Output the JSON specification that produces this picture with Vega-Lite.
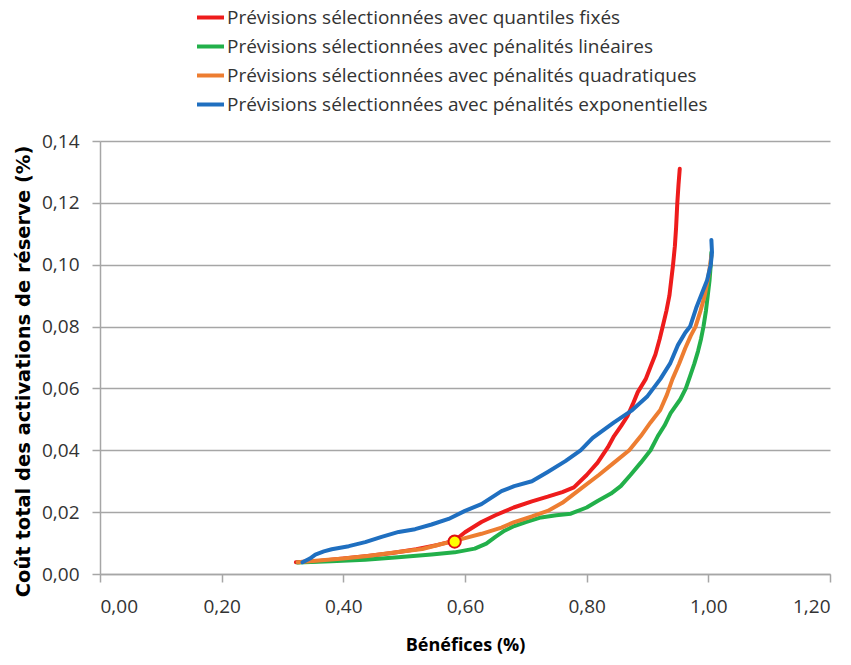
{
  "$schema": "https://vega.github.io/schema/vega-lite/v6.json",
  "width": 730,
  "height": 433,
  "autosize": {"type": "none"},
  "padding": {"left": 100, "top": 141, "right": 21, "bottom": 91},
  "background": "white",
  "config": {
    "font": "Open Sans",
    "view": {"stroke": null},
    "axis": {"labelFont": "Open Sans", "titleFont": "Open Sans"}
  },
  "datasets": {
    "curves": [
      {"s": "Prévisions sélectionnées avec quantiles fixés", "x": 0.322, "y": 0.0038},
      {"s": "Prévisions sélectionnées avec quantiles fixés", "x": 0.36, "y": 0.0042},
      {"s": "Prévisions sélectionnées avec quantiles fixés", "x": 0.40, "y": 0.0050},
      {"s": "Prévisions sélectionnées avec quantiles fixés", "x": 0.44, "y": 0.0058},
      {"s": "Prévisions sélectionnées avec quantiles fixés", "x": 0.48, "y": 0.0068},
      {"s": "Prévisions sélectionnées avec quantiles fixés", "x": 0.52, "y": 0.0080},
      {"s": "Prévisions sélectionnées avec quantiles fixés", "x": 0.555, "y": 0.0094},
      {"s": "Prévisions sélectionnées avec quantiles fixés", "x": 0.583, "y": 0.0108},
      {"s": "Prévisions sélectionnées avec quantiles fixés", "x": 0.60, "y": 0.0135},
      {"s": "Prévisions sélectionnées avec quantiles fixés", "x": 0.627, "y": 0.0168},
      {"s": "Prévisions sélectionnées avec quantiles fixés", "x": 0.65, "y": 0.0190},
      {"s": "Prévisions sélectionnées avec quantiles fixés", "x": 0.68, "y": 0.0215},
      {"s": "Prévisions sélectionnées avec quantiles fixés", "x": 0.71, "y": 0.0235},
      {"s": "Prévisions sélectionnées avec quantiles fixés", "x": 0.736, "y": 0.0250},
      {"s": "Prévisions sélectionnées avec quantiles fixés", "x": 0.76, "y": 0.0265},
      {"s": "Prévisions sélectionnées avec quantiles fixés", "x": 0.779, "y": 0.0280},
      {"s": "Prévisions sélectionnées avec quantiles fixés", "x": 0.80, "y": 0.0320},
      {"s": "Prévisions sélectionnées avec quantiles fixés", "x": 0.818, "y": 0.0360},
      {"s": "Prévisions sélectionnées avec quantiles fixés", "x": 0.835, "y": 0.0410},
      {"s": "Prévisions sélectionnées avec quantiles fixés", "x": 0.845, "y": 0.0446},
      {"s": "Prévisions sélectionnées avec quantiles fixés", "x": 0.857, "y": 0.0480},
      {"s": "Prévisions sélectionnées avec quantiles fixés", "x": 0.867, "y": 0.0510},
      {"s": "Prévisions sélectionnées avec quantiles fixés", "x": 0.876, "y": 0.0550},
      {"s": "Prévisions sélectionnées avec quantiles fixés", "x": 0.884, "y": 0.0588},
      {"s": "Prévisions sélectionnées avec quantiles fixés", "x": 0.897, "y": 0.0630},
      {"s": "Prévisions sélectionnées avec quantiles fixés", "x": 0.905, "y": 0.0670},
      {"s": "Prévisions sélectionnées avec quantiles fixés", "x": 0.913, "y": 0.0710},
      {"s": "Prévisions sélectionnées avec quantiles fixés", "x": 0.920, "y": 0.0760},
      {"s": "Prévisions sélectionnées avec quantiles fixés", "x": 0.925, "y": 0.0800},
      {"s": "Prévisions sélectionnées avec quantiles fixés", "x": 0.931, "y": 0.0850},
      {"s": "Prévisions sélectionnées avec quantiles fixés", "x": 0.936, "y": 0.0900},
      {"s": "Prévisions sélectionnées avec quantiles fixés", "x": 0.939, "y": 0.0950},
      {"s": "Prévisions sélectionnées avec quantiles fixés", "x": 0.942, "y": 0.1000},
      {"s": "Prévisions sélectionnées avec quantiles fixés", "x": 0.945, "y": 0.1060},
      {"s": "Prévisions sélectionnées avec quantiles fixés", "x": 0.947, "y": 0.1120},
      {"s": "Prévisions sélectionnées avec quantiles fixés", "x": 0.949, "y": 0.1200},
      {"s": "Prévisions sélectionnées avec quantiles fixés", "x": 0.951, "y": 0.1260},
      {"s": "Prévisions sélectionnées avec quantiles fixés", "x": 0.953, "y": 0.1310},

      {"s": "Prévisions sélectionnées avec pénalités linéaires", "x": 0.325, "y": 0.0037},
      {"s": "Prévisions sélectionnées avec pénalités linéaires", "x": 0.38, "y": 0.0041},
      {"s": "Prévisions sélectionnées avec pénalités linéaires", "x": 0.436, "y": 0.0046},
      {"s": "Prévisions sélectionnées avec pénalités linéaires", "x": 0.49, "y": 0.0054},
      {"s": "Prévisions sélectionnées avec pénalités linéaires", "x": 0.545, "y": 0.0063},
      {"s": "Prévisions sélectionnées avec pénalités linéaires", "x": 0.583, "y": 0.0070},
      {"s": "Prévisions sélectionnées avec pénalités linéaires", "x": 0.616, "y": 0.0082},
      {"s": "Prévisions sélectionnées avec pénalités linéaires", "x": 0.635, "y": 0.0098},
      {"s": "Prévisions sélectionnées avec pénalités linéaires", "x": 0.65, "y": 0.0120},
      {"s": "Prévisions sélectionnées avec pénalités linéaires", "x": 0.665, "y": 0.0140},
      {"s": "Prévisions sélectionnées avec pénalités linéaires", "x": 0.681, "y": 0.0155},
      {"s": "Prévisions sélectionnées avec pénalités linéaires", "x": 0.70, "y": 0.0168},
      {"s": "Prévisions sélectionnées avec pénalités linéaires", "x": 0.725, "y": 0.0183},
      {"s": "Prévisions sélectionnées avec pénalités linéaires", "x": 0.75, "y": 0.0190},
      {"s": "Prévisions sélectionnées avec pénalités linéaires", "x": 0.774, "y": 0.0195},
      {"s": "Prévisions sélectionnées avec pénalités linéaires", "x": 0.80, "y": 0.0215},
      {"s": "Prévisions sélectionnées avec pénalités linéaires", "x": 0.818, "y": 0.0236},
      {"s": "Prévisions sélectionnées avec pénalités linéaires", "x": 0.84, "y": 0.0260},
      {"s": "Prévisions sélectionnées avec pénalités linéaires", "x": 0.856, "y": 0.0284},
      {"s": "Prévisions sélectionnées avec pénalités linéaires", "x": 0.872, "y": 0.0320},
      {"s": "Prévisions sélectionnées avec pénalités linéaires", "x": 0.889, "y": 0.0360},
      {"s": "Prévisions sélectionnées avec pénalités linéaires", "x": 0.905, "y": 0.0400},
      {"s": "Prévisions sélectionnées avec pénalités linéaires", "x": 0.917, "y": 0.0446},
      {"s": "Prévisions sélectionnées avec pénalités linéaires", "x": 0.928, "y": 0.0480},
      {"s": "Prévisions sélectionnées avec pénalités linéaires", "x": 0.938, "y": 0.0520},
      {"s": "Prévisions sélectionnées avec pénalités linéaires", "x": 0.954, "y": 0.0565},
      {"s": "Prévisions sélectionnées avec pénalités linéaires", "x": 0.963, "y": 0.0600},
      {"s": "Prévisions sélectionnées avec pénalités linéaires", "x": 0.970, "y": 0.0640},
      {"s": "Prévisions sélectionnées avec pénalités linéaires", "x": 0.977, "y": 0.0680},
      {"s": "Prévisions sélectionnées avec pénalités linéaires", "x": 0.983, "y": 0.0720},
      {"s": "Prévisions sélectionnées avec pénalités linéaires", "x": 0.988, "y": 0.0760},
      {"s": "Prévisions sélectionnées avec pénalités linéaires", "x": 0.992, "y": 0.0800},
      {"s": "Prévisions sélectionnées avec pénalités linéaires", "x": 0.996, "y": 0.0850},
      {"s": "Prévisions sélectionnées avec pénalités linéaires", "x": 0.999, "y": 0.0900},
      {"s": "Prévisions sélectionnées avec pénalités linéaires", "x": 1.002, "y": 0.0950},
      {"s": "Prévisions sélectionnées avec pénalités linéaires", "x": 1.004, "y": 0.1000},
      {"s": "Prévisions sélectionnées avec pénalités linéaires", "x": 1.005, "y": 0.1040},

      {"s": "Prévisions sélectionnées avec pénalités quadratiques", "x": 0.325, "y": 0.0038},
      {"s": "Prévisions sélectionnées avec pénalités quadratiques", "x": 0.36, "y": 0.0044},
      {"s": "Prévisions sélectionnées avec pénalités quadratiques", "x": 0.40, "y": 0.0050},
      {"s": "Prévisions sélectionnées avec pénalités quadratiques", "x": 0.44, "y": 0.0058},
      {"s": "Prévisions sélectionnées avec pénalités quadratiques", "x": 0.49, "y": 0.0071},
      {"s": "Prévisions sélectionnées avec pénalités quadratiques", "x": 0.53, "y": 0.0081},
      {"s": "Prévisions sélectionnées avec pénalités quadratiques", "x": 0.56, "y": 0.0096},
      {"s": "Prévisions sélectionnées avec pénalités quadratiques", "x": 0.583, "y": 0.0107},
      {"s": "Prévisions sélectionnées avec pénalités quadratiques", "x": 0.60, "y": 0.0116},
      {"s": "Prévisions sélectionnées avec pénalités quadratiques", "x": 0.627, "y": 0.0130},
      {"s": "Prévisions sélectionnées avec pénalités quadratiques", "x": 0.66, "y": 0.0150},
      {"s": "Prévisions sélectionnées avec pénalités quadratiques", "x": 0.681, "y": 0.0168},
      {"s": "Prévisions sélectionnées avec pénalités quadratiques", "x": 0.71, "y": 0.0186},
      {"s": "Prévisions sélectionnées avec pénalités quadratiques", "x": 0.736, "y": 0.0204},
      {"s": "Prévisions sélectionnées avec pénalités quadratiques", "x": 0.76, "y": 0.0230},
      {"s": "Prévisions sélectionnées avec pénalités quadratiques", "x": 0.79, "y": 0.0275},
      {"s": "Prévisions sélectionnées avec pénalités quadratiques", "x": 0.82, "y": 0.0320},
      {"s": "Prévisions sélectionnées avec pénalités quadratiques", "x": 0.845, "y": 0.0360},
      {"s": "Prévisions sélectionnées avec pénalités quadratiques", "x": 0.87, "y": 0.0400},
      {"s": "Prévisions sélectionnées avec pénalités quadratiques", "x": 0.889, "y": 0.0446},
      {"s": "Prévisions sélectionnées avec pénalités quadratiques", "x": 0.905, "y": 0.0490},
      {"s": "Prévisions sélectionnées avec pénalités quadratiques", "x": 0.921, "y": 0.0530},
      {"s": "Prévisions sélectionnées avec pénalités quadratiques", "x": 0.932, "y": 0.0580},
      {"s": "Prévisions sélectionnées avec pénalités quadratiques", "x": 0.941, "y": 0.0630},
      {"s": "Prévisions sélectionnées avec pénalités quadratiques", "x": 0.952, "y": 0.0680},
      {"s": "Prévisions sélectionnées avec pénalités quadratiques", "x": 0.962, "y": 0.0730},
      {"s": "Prévisions sélectionnées avec pénalités quadratiques", "x": 0.971, "y": 0.0770},
      {"s": "Prévisions sélectionnées avec pénalités quadratiques", "x": 0.979, "y": 0.0800},
      {"s": "Prévisions sélectionnées avec pénalités quadratiques", "x": 0.987, "y": 0.0850},
      {"s": "Prévisions sélectionnées avec pénalités quadratiques", "x": 0.994, "y": 0.0900},
      {"s": "Prévisions sélectionnées avec pénalités quadratiques", "x": 0.999, "y": 0.0950},
      {"s": "Prévisions sélectionnées avec pénalités quadratiques", "x": 1.003, "y": 0.1000},
      {"s": "Prévisions sélectionnées avec pénalités quadratiques", "x": 1.005, "y": 0.1030},

      {"s": "Prévisions sélectionnées avec pénalités exponentielles", "x": 0.333, "y": 0.0038},
      {"s": "Prévisions sélectionnées avec pénalités exponentielles", "x": 0.345, "y": 0.0050},
      {"s": "Prévisions sélectionnées avec pénalités exponentielles", "x": 0.354, "y": 0.0063},
      {"s": "Prévisions sélectionnées avec pénalités exponentielles", "x": 0.368, "y": 0.0073},
      {"s": "Prévisions sélectionnées avec pénalités exponentielles", "x": 0.381, "y": 0.0080},
      {"s": "Prévisions sélectionnées avec pénalités exponentielles", "x": 0.409, "y": 0.0090},
      {"s": "Prévisions sélectionnées avec pénalités exponentielles", "x": 0.436, "y": 0.0103},
      {"s": "Prévisions sélectionnées avec pénalités exponentielles", "x": 0.463, "y": 0.0120},
      {"s": "Prévisions sélectionnées avec pénalités exponentielles", "x": 0.491, "y": 0.0136},
      {"s": "Prévisions sélectionnées avec pénalités exponentielles", "x": 0.518, "y": 0.0145},
      {"s": "Prévisions sélectionnées avec pénalités exponentielles", "x": 0.545, "y": 0.0160},
      {"s": "Prévisions sélectionnées avec pénalités exponentielles", "x": 0.573, "y": 0.0178},
      {"s": "Prévisions sélectionnées avec pénalités exponentielles", "x": 0.600, "y": 0.0204},
      {"s": "Prévisions sélectionnées avec pénalités exponentielles", "x": 0.627, "y": 0.0226},
      {"s": "Prévisions sélectionnées avec pénalités exponentielles", "x": 0.660, "y": 0.0268},
      {"s": "Prévisions sélectionnées avec pénalités exponentielles", "x": 0.681, "y": 0.0284},
      {"s": "Prévisions sélectionnées avec pénalités exponentielles", "x": 0.710, "y": 0.0300},
      {"s": "Prévisions sélectionnées avec pénalités exponentielles", "x": 0.736, "y": 0.0330},
      {"s": "Prévisions sélectionnées avec pénalités exponentielles", "x": 0.765, "y": 0.0365},
      {"s": "Prévisions sélectionnées avec pénalités exponentielles", "x": 0.790, "y": 0.0400},
      {"s": "Prévisions sélectionnées avec pénalités exponentielles", "x": 0.810, "y": 0.0440},
      {"s": "Prévisions sélectionnées avec pénalités exponentielles", "x": 0.845, "y": 0.0490},
      {"s": "Prévisions sélectionnées avec pénalités exponentielles", "x": 0.875, "y": 0.0530},
      {"s": "Prévisions sélectionnées avec pénalités exponentielles", "x": 0.900, "y": 0.0575},
      {"s": "Prévisions sélectionnées avec pénalités exponentielles", "x": 0.921, "y": 0.0630},
      {"s": "Prévisions sélectionnées avec pénalités exponentielles", "x": 0.937, "y": 0.0680},
      {"s": "Prévisions sélectionnées avec pénalités exponentielles", "x": 0.950, "y": 0.0740},
      {"s": "Prévisions sélectionnées avec pénalités exponentielles", "x": 0.962, "y": 0.0780},
      {"s": "Prévisions sélectionnées avec pénalités exponentielles", "x": 0.970, "y": 0.0800},
      {"s": "Prévisions sélectionnées avec pénalités exponentielles", "x": 0.980, "y": 0.0860},
      {"s": "Prévisions sélectionnées avec pénalités exponentielles", "x": 0.990, "y": 0.0910},
      {"s": "Prévisions sélectionnées avec pénalités exponentielles", "x": 0.998, "y": 0.0950},
      {"s": "Prévisions sélectionnées avec pénalités exponentielles", "x": 1.004, "y": 0.1000},
      {"s": "Prévisions sélectionnées avec pénalités exponentielles", "x": 1.006, "y": 0.1040},
      {"s": "Prévisions sélectionnées avec pénalités exponentielles", "x": 1.005, "y": 0.1080}
    ],
    "marker": [{"x": 0.583, "y": 0.0105}]
  },
  "layer": [
    {
      "data": {"name": "curves"},
      "mark": {"type": "line", "strokeWidth": 4, "strokeJoin": "round", "strokeCap": "round"},
      "encoding": {
        "x": {
          "field": "x", "type": "quantitative",
          "scale": {"domain": [0, 1.2], "nice": false, "zero": false},
          "axis": {
            "title": "Bénéfices (%)",
            "values": [0, 0.2, 0.4, 0.6, 0.8, 1.0, 1.2],
            "labelExpr": "replace(format(datum.value, '.2f'), '.', ',')",
            "grid": false,
            "domainColor": "#a6a6a6", "domainWidth": 1.5,
            "tickColor": "#a6a6a6", "tickWidth": 1.5, "tickSize": 8,
            "labelFontSize": 19, "labelColor": "#333333", "labelPadding": 15,
            "titleFontSize": 18, "titleFontWeight": "bold", "titleColor": "#000000",
            "titlePadding": 20
          }
        },
        "y": {
          "field": "y", "type": "quantitative",
          "scale": {"domain": [0, 0.14], "nice": false},
          "axis": {
            "title": "Coût total des activations de réserve (%)",
            "values": [0, 0.02, 0.04, 0.06, 0.08, 0.1, 0.12, 0.14],
            "labelExpr": "replace(format(datum.value, '.2f'), '.', ',')",
            "grid": true, "gridColor": "#a6a6a6", "gridWidth": 1.5,
            "domainColor": "#a6a6a6", "domainWidth": 1.5,
            "tickColor": "#a6a6a6", "tickWidth": 1.5, "tickSize": 8,
            "labelFontSize": 19, "labelColor": "#333333", "labelPadding": 13,
            "titleFont": "DejaVu Sans", "titleFontSize": 19.5, "titleFontWeight": "bold", "titleColor": "#000000",
            "titlePadding": 8,
            "titleY": 230
          }
        },
        "order": {"field": "y", "type": "quantitative"},
        "color": {
          "field": "s", "type": "nominal",
          "scale": {
            "domain": [
              "Prévisions sélectionnées avec quantiles fixés",
              "Prévisions sélectionnées avec pénalités linéaires",
              "Prévisions sélectionnées avec pénalités quadratiques",
              "Prévisions sélectionnées avec pénalités exponentielles"
            ],
            "range": ["#ee1c1c", "#22b04a", "#ed7d31", "#1f6fc0"]
          },
          "legend": {
            "title": null,
            "orient": "none",
            "legendX": 95,
            "legendY": -139,
            "symbolType": "stroke",
            "symbolSize": 729,
            "symbolStrokeWidth": 4,
            "labelFontSize": 19,
            "labelColor": "#333333",
            "labelOffset": 1,
            "rowPadding": 3,
            "labelLimit": 700,
            "padding": 0
          }
        }
      }
    },
    {
      "data": {"name": "marker"},
      "mark": {"type": "point", "filled": true, "fill": "#ffff00", "stroke": "#e01010", "strokeWidth": 2, "size": 150, "opacity": 1},
      "encoding": {
        "x": {"field": "x", "type": "quantitative"},
        "y": {"field": "y", "type": "quantitative"}
      }
    }
  ]
}
